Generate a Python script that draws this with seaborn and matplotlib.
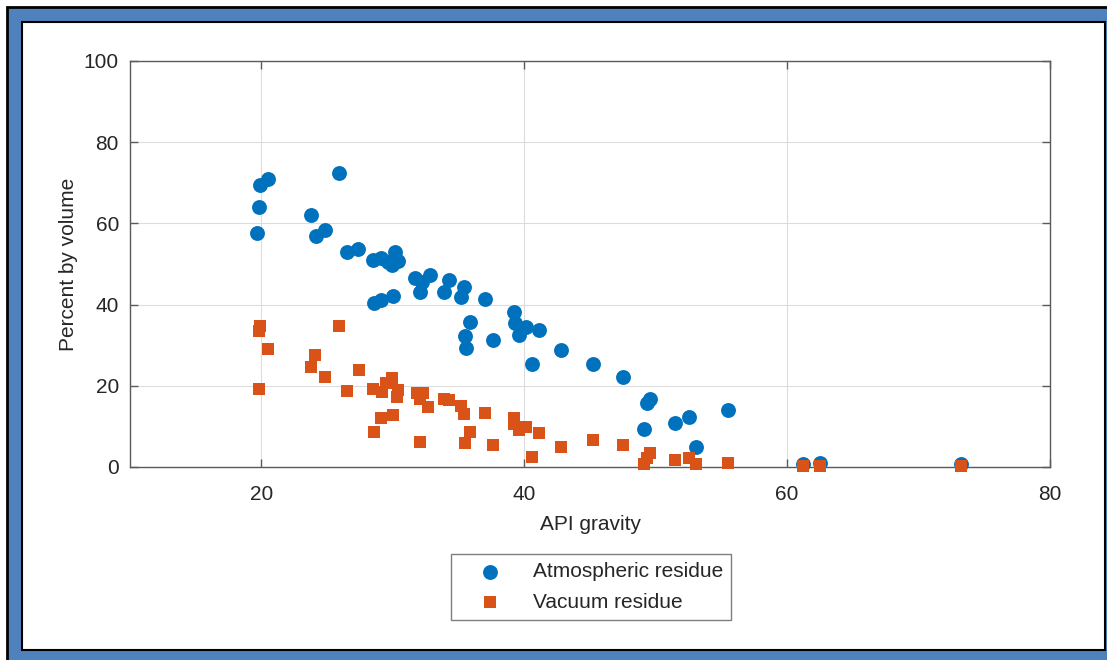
import matplotlib

matplotlib.use("Agg")
import matplotlib.pyplot as plt
import numpy as np
import pandas as pd
import seaborn as sns
from matplotlib.patches import Rectangle

sns.set_theme(style="ticks")
plt.rcParams["font.family"] = ["Liberation Sans", "DejaVu Sans"]

BLUE = "#0072BD"
ORANGE = "#D95319"

atm_api = [19.7, 19.8, 19.9, 20.5, 25.9, 23.75, 24.15, 24.8, 26.5, 27.35,
           28.5, 29.1, 29.6, 30.2, 30.4, 29.9, 28.6, 29.1, 30.0, 31.7,
           32.1, 32.2, 32.8, 34.3, 33.9, 35.4, 35.2, 37.0, 35.9, 35.5,
           35.6, 37.6, 39.2, 39.3, 39.6, 40.1, 41.1, 40.6, 42.8, 45.2,
           47.5, 49.3, 49.6, 49.1, 51.5, 52.5, 53.05, 55.5, 61.2, 62.5, 73.2]
atm_pct = [57.7, 64.1, 69.5, 70.9, 72.5, 62.0, 56.9, 58.3, 52.9, 53.7,
           50.9, 51.6, 50.6, 52.9, 50.7, 49.7, 40.5, 41.2, 42.2, 46.6,
           43.2, 45.6, 47.3, 46.1, 43.0, 44.4, 41.9, 41.3, 35.6, 32.3,
           29.3, 31.3, 38.3, 35.4, 32.5, 34.4, 33.7, 25.4, 28.8, 25.3,
           22.1, 15.8, 16.8, 9.3, 10.9, 12.3, 5.0, 14.0, 0.7, 0.9, 0.7]

vac_api = [19.9, 19.8, 20.5, 19.8, 25.9, 24.1, 23.75, 24.8, 27.4, 26.5,
           28.5, 29.2, 29.5, 29.9, 30.4, 30.3, 29.1, 30.0, 28.6, 32.1,
           31.8, 32.3, 32.1, 32.7, 33.9, 34.3, 35.2, 35.4, 37.0, 35.9,
           35.5, 37.6, 39.2, 39.25, 39.6, 40.1, 41.1, 40.6, 42.8, 45.2,
           47.5, 49.6, 49.3, 49.1, 51.5, 52.5, 53.05, 55.5, 61.2, 62.5, 73.2]
vac_pct = [34.8, 33.5, 29.0, 19.1, 34.8, 27.6, 24.7, 22.2, 23.9, 18.7,
           19.1, 18.4, 20.6, 22.0, 19.0, 17.3, 12.1, 12.8, 8.7, 6.1,
           18.3, 18.2, 16.7, 14.9, 16.7, 16.5, 15.1, 13.1, 13.4, 8.7,
           6.0, 5.3, 12.1, 10.6, 9.1, 9.9, 8.4, 2.5, 5.0, 6.6,
           5.4, 3.5, 2.1, 0.7, 1.7, 2.1, 0.7, 1.1, 0.3, 0.3, 0.3]

x_ticks = [20, 40, 60, 80]
y_ticks = [0, 20, 40, 60, 80, 100]

atm_df = pd.DataFrame({"api": atm_api, "pct": atm_pct})
vac_df = pd.DataFrame({"api": vac_api, "pct": vac_pct})

W, H = 1107, 660
fig = plt.figure(figsize=(W / 100, H / 100), dpi=100)

# framed border: black outline, blue band, white panel
fig.patches.append(Rectangle((7 / W, -0.1), 2.0, (H - 7) / H + 0.1,
                             transform=fig.transFigure, facecolor="#4F81BD",
                             edgecolor="black", linewidth=2, zorder=-2))
fig.patches.append(Rectangle((22 / W, 1 - 650 / H), (1105 - 22) / W, (650 - 22) / H,
                             transform=fig.transFigure, facecolor="white",
                             edgecolor="black", linewidth=1.5, zorder=-1))

ax = fig.add_axes([130 / W, 1 - 467 / H, (1050 - 130) / W, (467 - 61) / H])
ax.set_zorder(2)

sns.scatterplot(data=atm_df, x="api", y="pct", ax=ax, color=BLUE, marker="o",
                s=115, linewidth=0, label="Atmospheric residue", clip_on=False, zorder=3)
sns.scatterplot(data=vac_df, x="api", y="pct", ax=ax, color=ORANGE, marker="s",
                s=72, linewidth=0, label="Vacuum residue", clip_on=False, zorder=4)

ax.set_xlim(10, 80)
ax.set_ylim(0, 100)
ax.set_xticks(x_ticks)
ax.set_yticks(y_ticks)
ax.grid(True, color="#dcdcdc", linewidth=0.8)
ax.set_axisbelow(True)
for side in ["top", "right", "bottom", "left"]:
    ax.spines[side].set_visible(True)
    ax.spines[side].set_color("#5a5a5a")
    ax.spines[side].set_linewidth(1.0)
ax.tick_params(direction="in", length=6, width=1.0, color="#5a5a5a",
               labelsize=15, labelcolor="#262626", top=True, right=True)
ax.tick_params(axis="x", pad=13)
ax.tick_params(axis="y", pad=8)
ax.set_xlabel("API gravity", fontsize=15, color="#262626", labelpad=8)
ax.set_ylabel("Percent by volume", fontsize=15, color="#262626", labelpad=4.5)

leg = ax.legend(loc="upper center", bbox_to_anchor=(591 / W, 1 - 554 / H),
                bbox_transform=fig.transFigure, fontsize=15, frameon=True,
                fancybox=False, edgecolor="#7f7f7f", framealpha=1,
                borderpad=0.4, handlelength=3.0, handletextpad=0.55,
                labelspacing=0.55, borderaxespad=0)
leg.get_frame().set_linewidth(1.0)

fig.savefig("out.png", dpi=100, facecolor="white")
